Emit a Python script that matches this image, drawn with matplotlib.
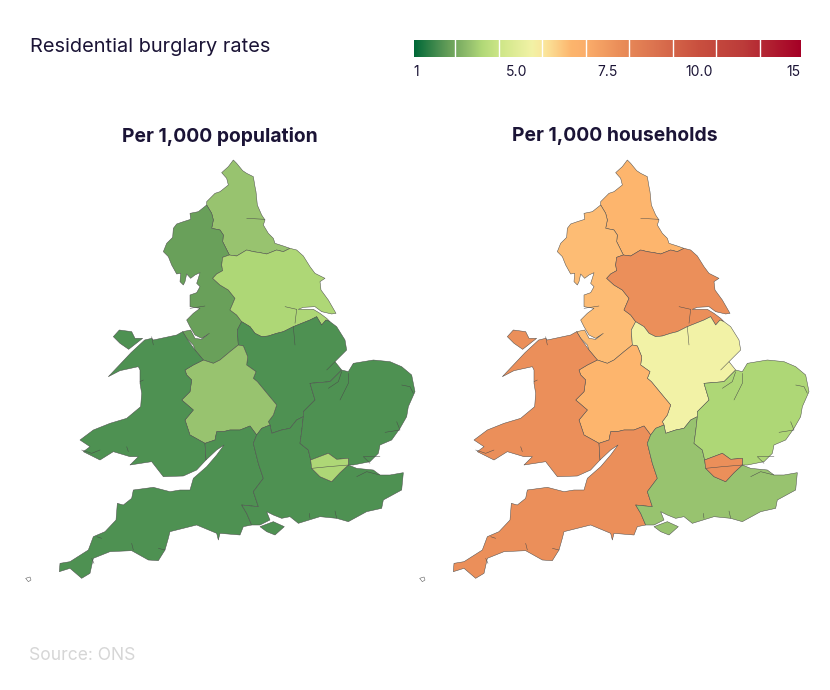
import numpy as np
import matplotlib
matplotlib.use("Agg")
import matplotlib.pyplot as plt
from matplotlib.colors import LinearSegmentedColormap
from matplotlib.patches import Polygon

plt.rcParams['font.family'] = ['Inter', 'DejaVu Sans']

# ---- data -----
regions = ["North East", "North West", "Yorkshire and The Humber", "East Midlands",
           "West Midlands", "Wales", "South West", "South East", "East of England", "London"]
per_population = [3.2, 2.4, 3.6, 2.0, 3.2, 2.0, 2.0, 2.0, 2.0, 3.6]
per_households = [6.5, 6.4, 7.8, 5.4, 6.5, 7.8, 7.8, 3.2, 3.6, 7.8]
tick_values = [1, 5, 7.5, 10, 15]
tick_labels = ["1", "5.0", "7.5", "10.0", "15"]
panel_titles = ["Per 1,000 population", "Per 1,000 households"]

# ---- colour scale -----
tick_fracs = [0, .267, .5, .735, 1]
scale_nodes = [(0, "#006837"), (.067, "#4f9152"), (.093, "#6aa15a"), (.147, "#98c36f"), (.174, "#b0d877"),
               (.22, "#cde687"), (.304, "#f2f2a6"), (.34, "#fbe49a"), (.407, "#fdb56d"), (.444, "#fbae6b"),
               (.528, "#eb8f5a"), (.62, "#dc7450"), (.735, "#c9503f"), (.85, "#bc3c3a"), (1, "#a50026")]
cmap = LinearSegmentedColormap.from_list("burglary", scale_nodes, N=512)
def frac(v):
    return np.interp(v, tick_values, tick_fracs)

# ---- map geometry: region borders in survey-grid units -----
def G(*pts):
    return [(20 + x / 3, 350 + y / 3) for x, y in pts]

NE_NW = G((628,-285),(618,-305),(608,-325),(610,-345),(600,-360),(575,-365),(580,-390),(575,-410),(560,-435))
NE_W = G((560,-435),(560,-445),(585,-470),(600,-475),(625,-495),(620,-515),(605,-532),(625,-550),(640,-570))
NE_E = G((640,-570),(650,-560),(668,-538),(680,-530),(700,-520),(705,-490),(708,-475),(712,-435),(725,-405),(735,-390),(730,-375),(745,-350),(760,-335),(765,-320),(790,-312),(810,-305))
NE_YH = G((810,-305),(790,-295),(770,-300),(740,-288),(720,-292),(700,-295),(680,-300),(650,-282),(628,-285))
NW_YH = G((628,-285),(608,-278),(605,-255),(608,-238),(590,-228),(578,-215),(600,-195),(625,-180),(645,-155),(630,-120),(650,-105),(665,-85))
YH_coast = G((810,-305),(830,-300),(850,-282),(870,-250),(885,-230),(915,-215),(900,-205),(903,-180),(925,-150),(948,-110),(935,-108),(905,-115),(885,-130),(850,-128),(835,-122),(880,-122),(900,-110),(920,-95),(930,-85))
YH_EM = G((930,-85),(918,-90),(905,-75),(890,-100),(870,-90),(845,-80),(820,-70),(790,-55),(770,-50),(745,-42),(725,-40),(705,-50),(690,-70),(665,-85))
NW_EM = G((665,-85),(652,-60),(655,-15))
NW_coast = G((560,-435),(535,-415),(510,-410),(512,-392),(490,-385),(470,-378),(460,-365),(458,-338),(440,-320),(430,-295),(445,-280),(455,-255),(470,-228),(482,-230),(480,-205),(490,-195),(495,-205),(500,-228),(512,-215),(525,-225),(540,-232),(535,-215),(530,-200),(540,-190),(530,-172),(510,-165),(510,-130),(540,-125),(520,-110),(500,-90),(510,-70),(525,-45),(545,-35),(568,-50),(545,-32),(525,-35),(512,-60),(488,-55),(500,-35),(520,-15),(525,0),(550,30))
NW_WM = G((550,30),(580,40),(600,30),(630,5),(655,-15))
WM_EM = G((655,-15),(670,-12),(683,20),(680,45),(708,65),(700,85),(712,95),(745,135),(770,165),(760,195),(745,215),(750,225))
EM_SE = G((750,225),(755,250),(785,240),(810,235),(830,210),(850,200))
EM_EE = G((850,200),(850,185),(885,150),(870,100),(930,95),(965,60))
EM_coast = G((930,-85),(950,-70),(975,-30),(980,0),(965,15),(945,35),(965,60))
WM_W = G((550,30),(520,45),(495,60),(500,75),(515,90),(510,125),(485,150),(520,180),(495,210),(510,255),(555,280))
WM_SW = G((555,280),(585,270),(590,245),(610,245),(630,240),(660,240),(690,228),(710,255))
SW_SE_top = G((710,255),(725,235),(750,225))
W_coast = G((550,30),(525,0),(500,-35),(488,-55),(470,-45),(400,-30),(395,-35),(374,-30),(333,8),(265,80),(300,62),(355,50),(360,60),(360,100),(365,130),(362,170),(320,205),(270,220),(220,240),(180,270),(210,290),(190,305),(240,330),(280,305),(330,320),(355,320),(330,345),(395,335),(430,380),(490,378),(530,360),(558,330))
W_E = G((558,330),(555,280))
SW_coast = G((555,280),(558,330),(590,300),(612,285),(590,315),(560,350),(520,385),(510,420),(480,420),(450,425),(400,412),(340,420),(335,445),(310,465),(292,460),(288,510),(255,545),(220,560),(205,600),(150,635),(120,640),(118,665),(150,655),(185,685),(210,670),(220,625),(270,605),(335,602),(385,630),(415,632),(435,600),(445,565),(450,545),(530,525),(590,550),(595,570),(600,550),(660,555),(670,530),(695,525))
SW_SE = G((695,525),(680,490),(665,465),(715,470),(700,425),(730,385),(715,340),(700,280),(710,255))
SE_coast = G((695,525),(720,525),(750,510),(740,485),(760,495),(785,505),(810,500),(835,520),(900,500),(950,505),(985,515),(1040,485),(1085,475),(1090,450),(1145,420),(1150,368),(1110,375),(1080,375),(1060,360),(1010,355),(985,345))
London_s = G((985,345),(960,368),(935,395),(900,380),(875,355),(872,330))
London_n = G((872,330),(925,310),(950,328),(985,325),(985,345))
SE_EE = G((872,330),(865,300),(840,280),(845,245),(850,200))
EE_coast = G((965,60),(985,65),(1000,40),(1060,30),(1110,35),(1145,50),(1175,75),(1185,125),(1165,170),(1160,200),(1140,235),(1115,270),(1080,285),(1075,310),(1050,335),(1000,345),(985,345))
Anglesey = G((280,-40),(298,-60),(335,-55),(345,-35),(368,-35),(326,-2),(300,-20))
Wight = G((720,530),(760,515),(793,530),(765,555),(740,545))
Scilly = G((17,685),(30,681),(33,690),(25,695))

def rev(s):
    return s[::-1]

outlines = {
    "North East": NE_W + NE_E + NE_YH + NE_NW,
    "North West": NW_coast + NW_WM + rev(NW_EM) + rev(NW_YH) + NE_NW,
    "Yorkshire and The Humber": rev(NE_YH) + YH_coast + YH_EM + rev(NW_YH),
    "East Midlands": rev(YH_EM) + EM_coast + rev(EM_EE) + rev(EM_SE) + rev(WM_EM) + rev(NW_EM),
    "West Midlands": NW_WM + WM_EM + rev(SW_SE_top) + rev(WM_SW) + rev(WM_W),
    "Wales": W_coast + W_E + rev(WM_W),
    "South West": SW_coast + SW_SE + rev(WM_SW),
    "South East": SW_SE_top + EM_SE + rev(SE_EE) + rev(London_s) + rev(SE_coast) + SW_SE,
    "East of England": EE_coast + rev(London_n) + SE_EE + EM_EE,
    "London": London_n + London_s,
}
islands = {"Wales": [Anglesey], "South East": [Wight]}
inner_lines = [G(*p) for p in [
    [(795,-130),(830,-122),(825,-80)], [(820,-70),(825,-15)], [(680,-395),(735,-392)],
    [(510,-125),(555,-132)], [(395,-40),(400,-15)],
    [(965,65),(955,95),(925,115)], [(985,70),(985,100),(960,150)], [(945,35),(920,60)],
    [(1145,105),(1170,110),(1180,130)], [(1130,215),(1140,240),(1095,247)],
    [(875,355),(925,350),(985,345)], [(1080,320),(1030,320),(1050,340)],
    [(1010,380),(1040,365),(1080,375)], [(240,300),(215,310),(185,300)], [(320,290),(325,305)],
    [(370,90),(360,95)], [(340,600),(335,580)], [(230,560),(245,565)], [(435,600),(415,595)],
    [(870,505),(868,490)], [(950,505),(945,483)], [(215,625),(222,640)],
]]

# ---- figure -----
fig = plt.figure(figsize=(8.3, 6.9), dpi=100)
W, H = 830, 690
TXT = "#1b1436"
EDGE = "#4a4a4a"

def panel(left_px, values, title, cx):
    ax = fig.add_axes([left_px / W, 0, 436 / W, 1])
    ax.set_xlim(0, 436); ax.set_ylim(690, 0); ax.axis("off"); ax.patch.set_alpha(0)
    for name, v in zip(regions, values):
        c = cmap(frac(v))
        ax.add_patch(Polygon(outlines[name], closed=True, fc=c, ec=EDGE, lw=0.35, joinstyle="round"))
        for isl in islands.get(name, []):
            ax.add_patch(Polygon(isl, closed=True, fc=c, ec=EDGE, lw=0.35))
    ax.add_patch(Polygon(Scilly, closed=True, fc="white", ec=EDGE, lw=0.35))
    for ln in inner_lines:
        xs, ys = zip(*ln)
        ax.plot(xs, ys, color=EDGE, lw=0.35, solid_capstyle="round")
    ax.text(cx, 136, title, ha="center", va="center", fontsize=13.9, fontweight="bold", color=TXT)

panel(0, per_population, panel_titles[0], 220)
panel(394, per_households, panel_titles[1], 221)

fig.text(30 / W, 1 - 47.5 / H, "Residential burglary rates", fontsize=14.4, color=TXT, va="center", ha="left")
fig.text(29 / W, 1 - 655 / H, "Source: ONS", fontsize=12.6, color="#d6d6d6", va="center", ha="left")

# colour legend
cax = fig.add_axes([414 / W, 1 - 57.5 / H, 386 / W, 18 / H])
g = np.linspace(0, 1, 512)[None, :]
cax.imshow(g, aspect="auto", cmap=cmap, vmin=0, vmax=1, extent=[0, 1, 0, 1])
cax.axis("off")
for px in [455, 498.7, 542, 585.7, 629, 672.7, 716, 759.5]:
    cax.axvline((px - 414) / 386, color="white", lw=1)
tick_x = [416, 517, 608, 699, 793]
for v, lab, x in zip(tick_values, tick_labels, tick_x):
    fig.text(x / W, 1 - 72.5 / H, lab, fontsize=10, color=TXT, ha="center", va="center")

fig.savefig("out.png", dpi=100)
